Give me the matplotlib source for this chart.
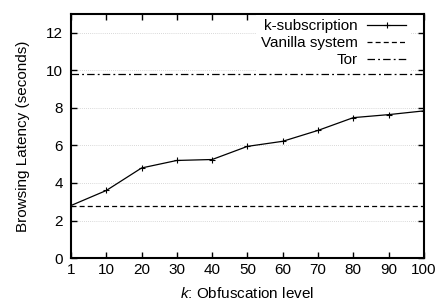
import numpy as np
import matplotlib.pyplot as plt

k_labels = ['1', '10', '20', '30', '40', '50', '60', '70', '80', '90', '100']
k_subscription = [2.8, 3.6, 4.8, 5.2, 5.25, 5.95, 6.22, 6.8, 7.48, 7.64, 7.84]
vanilla = 2.8
tor = 9.8

plt.rcParams['font.family'] = ['Liberation Sans', 'DejaVu Sans']
plt.rcParams['mathtext.fontset'] = 'custom'
plt.rcParams['mathtext.it'] = 'Liberation Sans:italic'
fs = 11

fig = plt.figure(figsize=(4.37, 3.04), dpi=100)
ax = fig.add_axes([0.1625, 0.151, 0.8075, 0.803])

x = np.arange(len(k_labels))
ax.plot(x, k_subscription, color='black', lw=0.9, marker='+', ms=4, mew=0.8,
        label='k-subscription')
ax.axhline(vanilla, color='black', lw=0.9, ls=(0, (4, 2.5)), label='Vanilla system')
ax.axhline(tor, color='black', lw=0.9, ls=(0, (6, 2.5, 1.5, 2.5)), label='Tor', zorder=6)

ax.set_xlim(0, len(k_labels) - 1)
ax.set_ylim(0, 13)
ax.set_xticks(x)
ax.set_xticklabels(k_labels)
ax.set_yticks(np.arange(0, 13, 2))
ax.grid(axis='y', color='#cccccc', ls=(0, (1, 1.5)), lw=0.6)
ax.tick_params(direction='in', top=True, right=True, labelsize=fs, length=4, width=1)
ax.tick_params(axis='x', pad=3.5)
ax.tick_params(axis='y', pad=6)
for s in ax.spines.values():
    s.set_linewidth(1.5)

ax.set_xlabel('$k$: Obfuscation level', fontsize=fs, labelpad=6.5)
ax.set_ylabel('Browsing Latency (seconds)', fontsize=fs, labelpad=11)

leg = ax.legend(loc='upper right', markerfirst=False, fontsize=fs, frameon=True,
                framealpha=1, edgecolor='none', fancybox=False, handlelength=2.5,
                handletextpad=0.65, labelspacing=0.2, borderpad=0.3,
                bbox_to_anchor=(0.983, 1.028))
leg.set_zorder(5)
for t in leg.get_texts():
    t.set_ha('right')
leg._legend_box.align = 'right'
for vp in leg._legend_box.get_children()[1].get_children():
    for c in vp.get_children():
        c.align = 'right'

fig.savefig('out.png', dpi=100)
